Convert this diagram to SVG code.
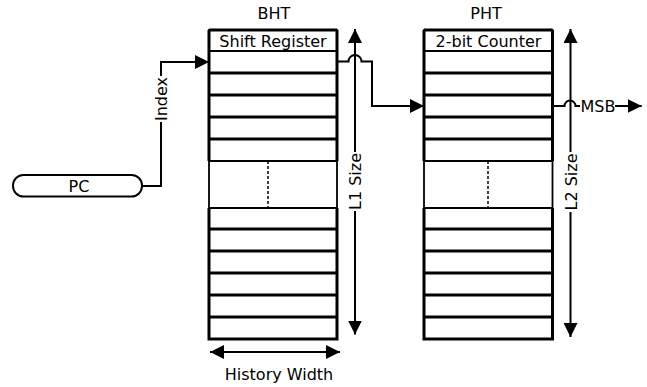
<svg xmlns="http://www.w3.org/2000/svg" width="647" height="387" viewBox="0 0 647 387">
<defs>
<marker id="arr" viewBox="0 0 14 14" refX="14" refY="7" markerWidth="14" markerHeight="14" markerUnits="userSpaceOnUse" orient="auto-start-reverse">
<path d="M0,0 L14,7 L0,14 Z" fill="#000"/>
</marker>
<style>
text{font-family:"DejaVu Sans","Liberation Sans",sans-serif;font-size:16px;fill:#000}
.c{text-anchor:middle}
.thick{stroke:#000;stroke-width:3;fill:none}
.thin{stroke:#000;stroke-width:1.8;fill:none}
.ln{stroke:#000;stroke-width:2;fill:none}
.dot{stroke:#000;stroke-width:1.5;stroke-dasharray:3,2;fill:none}
</style>
</defs>
<rect width="647" height="387" fill="#fff"/>

<g id="BHT">
<text class="c" x="274" y="18.5">BHT</text>
<rect x="209" y="30" width="128" height="21" fill="#fff" class="thin"/>
<text class="c" x="273" y="46.5">Shift Register</text>
<path class="thick" d="M209,51 V161 M337,51 V161 M209,208 V339 H337 V208 M209,30 V51 M337,30 V51 M209,30 H337"/>
<path class="thick" d="M209,73 H337 M209,95 H337 M209,117 H337 M209,139 H337 M209,229 H337 M209,251 H337 M209,273 H337 M209,295 H337 M209,317 H337"/>
<path class="thin" d="M209,51 H337 M209,161 H337 M209,208 H337 M209,161 V208 M337,161 V208"/>
<path class="dot" d="M268,161 V208"/>
</g>

<g id="PHT">
<text class="c" x="486" y="18.5">PHT</text>
<rect x="424" y="30" width="128.5" height="21" fill="#fff" class="thin"/>
<text class="c" x="488.5" y="46.5">2-bit Counter</text>
<path class="thick" d="M424,51 V161 M552.5,51 V161 M424,208 V339 H552.5 V208 M424,30 V51 M552.5,30 V51 M424,30 H552.5"/>
<path class="thick" d="M424,73 H552.5 M424,95 H552.5 M424,117 H552.5 M424,139 H552.5 M424,229 H552.5 M424,251 H552.5 M424,273 H552.5 M424,295 H552.5 M424,317 H552.5"/>
<path class="thin" d="M424,51 H552.5 M424,161 H552.5 M424,208 H552.5 M424,161 V208 M552.5,161 V208"/>
<path class="dot" d="M488,161 V208"/>
</g>

<g id="PC">
<rect x="13" y="175" width="129" height="21.5" rx="10.5" ry="10.5" fill="#fff" stroke="#000" stroke-width="2"/>
<text class="c" x="79" y="191.5">PC</text>
</g>

<g id="connectors">
<path class="ln" d="M142,186 H161 V62 H209" marker-end="url(#arr)"/>
<rect x="153" y="76" width="16" height="46" fill="#fff"/>
<text class="c" transform="translate(161,99) rotate(-90)" x="0" y="6">Index</text>

<path class="ln" d="M337,61.5 H348.5 A6.5,6.5 0 0 1 361.5,61.5 H372 V106 H424" marker-end="url(#arr)"/>

<path class="ln" d="M552.5,106 H564.5 A5.5,5.5 0 0 1 575.5,106 H580"/>
<text x="580.5" y="111.5">MSB</text>
<path class="ln" d="M615,106 H641.7" marker-end="url(#arr)"/>

<path class="ln" d="M355,29 V334.5" marker-start="url(#arr)" marker-end="url(#arr)"/>
<rect x="347" y="152" width="16" height="59" fill="#fff"/>
<text class="c" transform="translate(355,181.5) rotate(-90)" x="0" y="6">L1 Size</text>

<path class="ln" d="M570.5,29 V337" marker-start="url(#arr)" marker-end="url(#arr)"/>
<rect x="562.5" y="152" width="16" height="60" fill="#fff"/>
<text class="c" transform="translate(570.5,182) rotate(-90)" x="0" y="6">L2 Size</text>

<path class="ln" d="M210,352 H340" marker-start="url(#arr)" marker-end="url(#arr)"/>
<text class="c" x="279" y="380">History Width</text>
</g>
</svg>
